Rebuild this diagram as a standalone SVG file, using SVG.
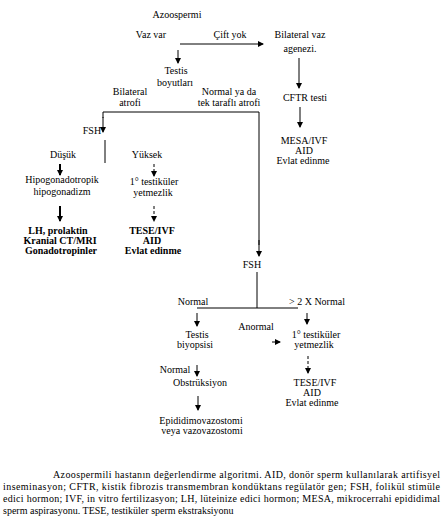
<svg xmlns="http://www.w3.org/2000/svg" width="445" height="528" viewBox="0 0 445 528">
<style>
text{font-family:"Liberation Serif","Times New Roman",serif;font-size:10px;fill:#000;text-anchor:middle}
.b{font-weight:bold}
.cap{text-anchor:start;font-size:10px}
line,path{stroke:#000;stroke-width:1;fill:none}
.a{marker-end:url(#ah)}
.t{stroke-width:2}
.d{stroke-dasharray:3,2}
</style>
<defs>
<marker id="ah" viewBox="0 0 6 6" refX="5" refY="3" markerWidth="6" markerHeight="6" markerUnits="userSpaceOnUse" orient="auto">
<path d="M0,0 L6,3 L0,6 Z" style="fill:#000;stroke:none"/>
</marker>
</defs>
<rect width="445" height="528" fill="#fff"/>
<g id="connectors">
<line class="a" x1="180" y1="44" x2="263" y2="44"/>
<line class="a" x1="178" y1="50" x2="178" y2="63"/>
<line class="a" x1="299" y1="58" x2="299" y2="88"/>
<line class="a" x1="300" y1="107" x2="300" y2="127"/>
<path d="M103,118 L103,112 L259,112 L259,245"/>
<line class="a" x1="103" y1="117" x2="103" y2="132"/>
<line class="a" x1="259" y1="240" x2="259" y2="256"/>
<line x1="105" y1="140" x2="105" y2="163"/>
<line class="a t" x1="60" y1="164" x2="60" y2="175"/>
<line class="a d" x1="154" y1="164" x2="154" y2="176"/>
<line class="a t" x1="60" y1="206" x2="60" y2="221"/>
<line class="a d" x1="154" y1="206" x2="154" y2="221"/>
<line x1="257" y1="272" x2="257" y2="308"/>
<line x1="197" y1="308" x2="298" y2="308"/>
<line class="a" x1="197" y1="313" x2="197" y2="326"/>
<line class="a" x1="307" y1="313" x2="307" y2="324"/>
<line class="a" x1="272" y1="342" x2="280" y2="342"/>
<line class="a" x1="197" y1="365" x2="197" y2="376"/>
<line class="a" x1="198" y1="396" x2="198" y2="410"/>
<line class="a d" x1="308" y1="356" x2="308" y2="373"/>
</g>
<g id="azoospermi"><text x="177" y="18">Azoospermi</text></g>
<g id="vaz-var"><text x="151" y="38">Vaz var</text></g>
<g id="cift-yok"><text x="230" y="38">Çift yok</text></g>
<g id="bilateral-vaz"><text x="300" y="38">Bilateral vaz</text><text x="300" y="52">agenezi.</text></g>
<g id="testis-boyutlari"><text x="176" y="74">Testis</text><text x="175" y="86">boyutları</text></g>
<g id="bilateral-atrofi"><text x="130" y="95">Bilateral</text><text x="130" y="106">atrofi</text></g>
<g id="normal-atrofi"><text x="229" y="95">Normal ya da</text><text x="229" y="106">tek taraflı atrofi</text></g>
<g id="cftr"><text x="305" y="101">CFTR testi</text></g>
<g id="mesa"><text x="304" y="144">MESA/IVF</text><text x="304" y="154">AID</text><text x="303" y="164">Evlat edinme</text></g>
<g id="fsh1"><text x="92" y="134">FSH</text></g>
<g id="dusuk"><text x="63" y="158">Düşük</text></g>
<g id="yuksek"><text x="147" y="158">Yüksek</text></g>
<g id="hipo"><text x="62" y="183">Hipogonadotropik</text><text x="62" y="195">hipogonadizm</text></g>
<g id="primer1"><text x="154" y="185">1° testiküler</text><text x="153" y="196">yetmezlik</text></g>
<g id="lh"><text class="b" x="58" y="234">LH, prolaktin</text><text class="b" x="60" y="244">Kranial CT/MRI</text><text class="b" x="61" y="254">Gonadotropinler</text></g>
<g id="tese1"><text class="b" x="152" y="234">TESE/IVF</text><text class="b" x="152" y="244">AID</text><text class="b" x="153" y="254">Evlat edinme</text></g>
<g id="fsh2"><text x="252" y="268">FSH</text></g>
<g id="normal-label"><text x="193" y="305">Normal</text></g>
<g id="gt2-label"><text x="317" y="305">&gt; 2 X Normal</text></g>
<g id="anormal-label"><text x="256" y="330">Anormal</text></g>
<g id="biyopsi"><text x="197" y="338">Testis</text><text x="195" y="348">biyopsisi</text></g>
<g id="primer2"><text x="316" y="338">1° testiküler</text><text x="314" y="348">yetmezlik</text></g>
<g id="normal2"><text x="175" y="373">Normal</text></g>
<g id="obstruksiyon"><text x="200" y="386">Obstrüksiyon</text></g>
<g id="epididimo"><text x="201" y="424">Epididimovazostomi</text><text x="202" y="434">veya vazovazostomi</text></g>
<g id="tese2"><text x="315" y="386">TESE/IVF</text><text x="312" y="396">AID</text><text x="312" y="406">Evlat edinme</text></g>
<g id="caption">
<text class="cap" x="53" y="478" textLength="387" lengthAdjust="spacing">Azoospermili hastanın değerlendirme algoritmi. AID, donör sperm kullanılarak artifisyel</text>
<text class="cap" x="3" y="490" textLength="437" lengthAdjust="spacing">inseminasyon; CFTR, kistik fibrozis transmembran kondüktans regülatör gen; FSH, folikül stimüle</text>
<text class="cap" x="3" y="502" textLength="437" lengthAdjust="spacing">edici hormon; IVF, in vitro fertilizasyon; LH, lüteinize edici hormon; MESA, mikrocerrahi epididimal</text>
<text class="cap" x="3" y="514">sperm aspirasyonu. TESE, testiküler sperm ekstraksiyonu</text>
</g>
</svg>
